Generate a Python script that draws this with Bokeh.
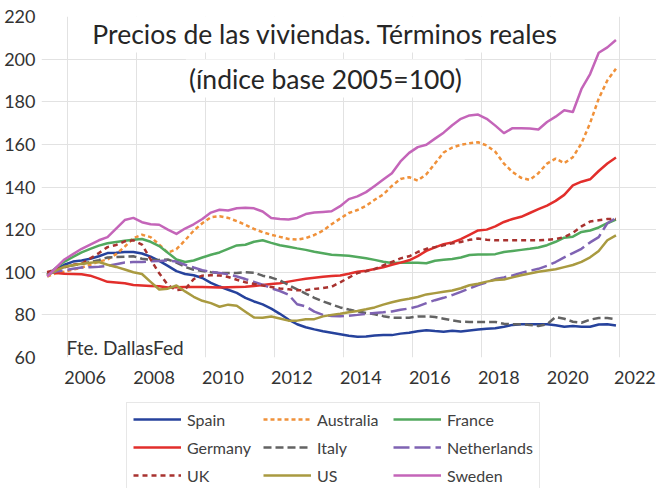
from bokeh.plotting import figure
from bokeh.layouts import column
from bokeh.models import FixedTicker, Label, Legend, LegendItem, Range1d
from bokeh.embed import file_html
from bokeh.resources import INLINE

FONT = "Lato"

# quarterly observations 2005Q1 .. 2021Q3 (decimal years)
quarters = [2005 + i / 4 for i in range(67)]

spain = [98.9, 101.5, 103.5, 105.0, 105.5, 106.3, 107.5, 109.0, 109.2, 109.5,
         109.5, 108.8, 107.3, 105.3, 103.0, 100.5, 99.2, 98.6, 97.3, 95.0,
         93.3, 91.8, 90.3, 88.0, 86.3, 84.9, 82.9, 80.5, 77.8, 75.6,
         74.2, 73.2, 72.3, 71.6, 70.9, 70.2, 69.7, 69.8, 70.3, 70.5,
         70.5, 71.2, 71.6, 72.3, 72.8, 72.4, 72.1, 72.5, 72.2, 72.7,
         73.1, 73.5, 73.7, 74.4, 75.3, 75.6, 75.6, 75.6, 75.6, 75.1,
         74.4, 74.8, 74.4, 74.4, 75.5, 75.6, 75.0]

australia = [98.0, 99.5, 100.3, 101.2, 102.2, 103.5, 105.0, 106.0, 108.5, 112.0,
             116.0, 117.6, 116.5, 113.0, 109.2, 110.8, 115.0, 119.5, 123.0, 125.8,
             126.3, 125.5, 124.0, 122.3, 120.3, 118.8, 117.6, 116.6, 115.6, 115.3,
             116.0, 117.5, 119.5, 122.5, 125.2, 127.8, 129.2, 131.2, 134.0, 136.5,
             140.5, 143.8, 144.6, 143.0, 146.0, 151.0, 156.2, 158.5, 159.8, 160.5,
             161.0, 159.5, 156.5, 151.0, 147.0, 144.3, 143.3, 146.5, 151.0, 153.3,
             151.2, 154.0, 160.5, 170.0, 181.5, 190.0, 195.5]

france = [98.6, 102.0, 105.0, 107.2, 109.3, 111.0, 112.5, 113.6, 114.2, 114.8,
          115.2, 115.6, 114.3, 112.3, 109.2, 106.0, 104.8, 105.5, 106.9, 108.2,
          109.3, 111.0, 112.6, 112.9, 114.3, 115.0, 113.8, 112.7, 112.0, 111.2,
          110.5, 109.6, 108.9, 108.2, 108.0, 107.7, 107.2, 106.6, 105.8, 104.9,
          104.3, 104.5, 104.5, 104.5, 104.2, 105.4, 105.9, 106.2, 106.9, 108.1,
          108.3, 108.3, 108.5, 109.5, 110.0, 110.5, 111.0, 111.6, 112.7, 114.3,
          116.2, 116.7, 118.9, 119.6, 121.0, 123.0, 124.7]

germany = [100.2, 99.6, 99.3, 99.2, 99.1, 98.4, 97.0, 95.5, 95.2, 94.8,
           94.0, 93.8, 93.6, 93.4, 92.8, 93.0, 93.1, 93.1, 93.1, 93.0,
           92.8, 93.0, 93.1, 93.2, 93.6, 94.0, 94.5, 94.8, 95.6, 96.3,
           96.9, 97.4, 97.9, 98.2, 98.5, 99.3, 100.2, 100.7, 101.5, 102.3,
           103.5, 104.5, 105.6, 107.6, 110.0, 111.7, 113.2, 114.0, 115.5, 117.5,
           119.6, 120.0, 121.5, 123.6, 125.0, 126.0, 127.8, 129.6, 131.3, 133.5,
           136.3, 140.8, 142.5, 143.6, 147.5, 151.0, 153.8]

italy = [98.9, 101.0, 102.5, 103.3, 103.9, 104.8, 105.7, 106.9, 107.2, 107.3,
         107.5, 106.3, 105.8, 105.8, 106.0, 104.5, 102.5, 101.2, 100.6, 100.0,
         99.7, 99.7, 99.7, 100.0, 99.8, 98.4, 97.5, 96.2, 94.0, 92.0,
         90.0, 88.0, 86.3, 84.9, 83.5, 82.5, 81.6, 80.9, 80.3, 79.4,
         78.7, 78.6, 78.7, 79.2, 79.3, 79.0, 78.2, 77.4, 76.8, 76.7,
         76.7, 76.7, 76.7, 75.8, 75.6, 75.6, 75.3, 74.8, 75.6, 79.0,
         78.2, 76.8, 76.3, 77.8, 78.5, 78.5, 78.0]

netherlands = [98.9, 100.3, 101.0, 101.6, 102.2, 102.4, 102.6, 103.0, 103.8, 104.6,
               104.8, 104.8, 105.1, 105.3, 105.6, 105.0, 103.5, 102.2, 101.0, 100.2,
               99.7, 99.0, 98.0, 96.8, 95.5, 94.2, 92.5, 91.2, 89.5, 85.0,
               84.0, 81.5, 80.0, 79.5, 79.4, 79.6, 80.0, 80.5, 80.9, 81.2,
               81.6, 82.4, 83.0, 84.0, 85.5, 86.9, 88.0, 89.3, 90.8, 92.4,
               94.0, 95.3, 96.8, 97.6, 98.5, 99.7, 100.7, 101.6, 103.0, 104.8,
               107.0, 109.0, 111.0, 114.0, 116.5, 123.0, 125.5]

uk = [99.9, 101.5, 102.3, 103.5, 104.0, 106.5, 109.0, 111.8, 112.8, 114.5,
      115.0, 113.0, 106.0, 99.5, 94.0, 91.6, 92.0, 96.8, 98.4, 98.6,
      98.5, 97.8, 96.5, 95.3, 94.5, 93.8, 93.1, 92.4, 92.0, 91.5,
      91.6, 92.2, 92.6, 93.2, 95.3, 97.5, 99.6, 100.5, 101.5, 103.2,
      104.8, 106.5, 107.5, 109.5, 111.0, 111.8, 112.6, 113.6, 114.2, 115.2,
      115.8, 115.3, 115.0, 115.0, 115.0, 115.0, 115.0, 115.0, 115.2, 115.6,
      116.5, 118.5, 121.5, 123.8, 124.4, 125.0, 125.0]

us = [98.6, 100.8, 102.6, 103.3, 104.0, 104.5, 104.8, 103.5, 102.5, 101.3,
      100.0, 99.2, 95.5, 91.9, 92.3, 93.8, 91.0, 88.5, 86.6, 85.5,
      83.8, 84.8, 84.3, 81.5, 78.8, 78.7, 79.2, 78.3, 77.3, 77.3,
      77.9, 78.0, 79.3, 80.0, 80.5, 81.2, 81.8, 82.6, 83.5, 84.8,
      85.9, 86.9, 87.6, 88.4, 89.6, 90.2, 90.8, 91.4, 92.5, 93.9,
      94.6, 95.6, 96.4, 96.6, 97.6, 98.6, 99.4, 100.2, 100.8, 101.4,
      102.4, 103.4, 104.9, 107.0, 110.0, 115.0, 117.3]

sweden = [98.0, 102.0, 106.0, 108.5, 111.0, 113.0, 115.0, 116.5, 120.5, 124.5,
          125.5, 123.5, 122.5, 122.3, 120.0, 118.0, 120.5, 122.5, 125.0, 128.0,
          129.3, 129.0, 130.0, 130.3, 130.0, 128.5, 125.5, 125.0, 124.8, 125.5,
          127.3, 128.0, 128.3, 128.6, 131.0, 134.3, 135.6, 137.6, 140.5, 143.5,
          146.5, 152.0, 156.0, 158.7, 159.8, 162.7, 165.5, 169.0, 172.0, 173.6,
          174.0, 172.0, 168.8, 165.3, 167.6, 167.6, 167.5, 167.0, 170.5, 173.0,
          176.0, 175.2, 186.0, 193.0, 203.0, 205.5, 209.0]

series_names = ["Spain", "Australia", "France", "Germany", "Italy",
                "Netherlands", "UK", "US", "Sweden"]
series_values = [spain, australia, france, germany, italy,
                 netherlands, uk, us, sweden]
series_colors = ["#26429C", "#F0913A", "#52A95E", "#E22E2B", "#636363",
                 "#7F63B3", "#A8322F", "#A99A40", "#C465B9"]
series_dashes = ["solid", "4 3", "solid", "solid", "8 4",
                 "16 5", "5 4", "solid", "solid"]

y_ticks = [60, 80, 100, 120, 140, 160, 180, 200, 220]
y_grid = [80, 100, 120, 140, 160, 180, 200]
x_labels = ["2006", "2008", "2010", "2012", "2014", "2016", "2018", "2020", "2022"]
x_label_pos = [2006.1, 2008.1, 2010.1, 2012.1, 2014.1, 2016.1, 2018.1, 2020.1, 2022.05]
x_grid = [2005.6, 2007.6, 2009.6, 2011.6, 2013.6, 2015.6, 2017.6, 2019.6, 2021.6]

title_1 = "Precios de las viviendas. Términos reales"
title_2 = "(índice base 2005=100)"
source = "Fte. DallasFed"

W = 656
H_CHART = 400
H_LEGEND = 88

# ---------------- main chart ----------------
p = figure(width=W, height=H_CHART, output_backend="svg", toolbar_location=None,
           x_range=Range1d(2004.835, 2022.676), y_range=Range1d(60, 220),
           min_border_left=41, min_border_right=0, min_border_top=16,
           min_border_bottom=43)
p.outline_line_color = None
p.background_fill_color = "white"
p.border_fill_color = "white"

xa = p.xaxis[0]
xa.ticker = FixedTicker(ticks=x_label_pos)
xa.major_label_overrides = {pos: lab for pos, lab in zip(x_label_pos, x_labels)}
ya = p.yaxis[0]
ya.ticker = FixedTicker(ticks=y_ticks)
for ax, standoff in ((xa, 13), (ya, 6)):
    ax.axis_line_color = None
    ax.major_tick_line_color = None
    ax.minor_tick_line_color = None
    ax.major_tick_out = 0
    ax.major_tick_in = 0
    ax.major_label_text_font = FONT
    ax.major_label_text_font_size = "18px"
    ax.major_label_text_color = "#333333"
    ax.major_label_standoff = standoff

p.xgrid[0].ticker = FixedTicker(ticks=x_grid)
p.ygrid[0].ticker = FixedTicker(ticks=y_grid)
p.grid.grid_line_color = "#E2E2E2"
p.grid.grid_line_width = 1

for name, vals, col, dash in zip(series_names, series_values, series_colors, series_dashes):
    p.line(quarters, vals, line_color=col, line_width=2.5, line_dash=dash,
           line_join="round")

for txt, yv in ((title_1, 212.0), (title_2, 190.9)):
    p.add_layout(Label(x=2013.07, y=yv, text=txt, text_align="center",
                       text_baseline="alphabetic", text_font=FONT,
                       text_font_size="26.5px", text_color="#262626",
                       background_fill_color="white", padding=3))

p.add_layout(Label(x=2005.56, y=64.8, text=source, text_align="left",
                   text_baseline="alphabetic", text_font=FONT,
                   text_font_size="19px", text_color="#333333"))

# ---------------- legend strip (same frame alignment as the chart) ----------------
pl = figure(width=W, height=H_LEGEND, output_backend="svg", toolbar_location=None,
            x_axis_location=None, y_axis_location=None,
            x_range=Range1d(0, 1), y_range=Range1d(0, 1),
            min_border_left=41, min_border_right=0, min_border_top=0,
            min_border_bottom=0)
pl.outline_line_color = None
pl.grid.visible = False
pl.background_fill_color = "white"
pl.border_fill_color = "white"

nan = float("nan")
keys = []
for name, col, dash in zip(series_names, series_colors, series_dashes):
    # legend key only: a single undrawn (NaN) point carrying the line style
    k = pl.line(x=[nan], y=[nan], line_color=col, line_width=2.5, line_dash=dash)
    keys.append(LegendItem(label=name, renderers=[k]))

legend = Legend(items=keys, orientation="horizontal", ncols=3, location=(85, -4),
                border_line_color="#CFCFCF", border_line_width=1,
                background_fill_color="white", background_fill_alpha=1.0,
                padding=6, spacing=8, margin=0, glyph_width=48, glyph_height=20,
                label_standoff=6, label_width=68, label_height=20,
                label_text_font=FONT, label_text_font_size="16px",
                label_text_color="#404040")
pl.add_layout(legend)

layout = column(p, pl, spacing=0)
open("out.html", "w", encoding="utf-8").write(file_html(layout, INLINE, title="Precios de las viviendas"))
